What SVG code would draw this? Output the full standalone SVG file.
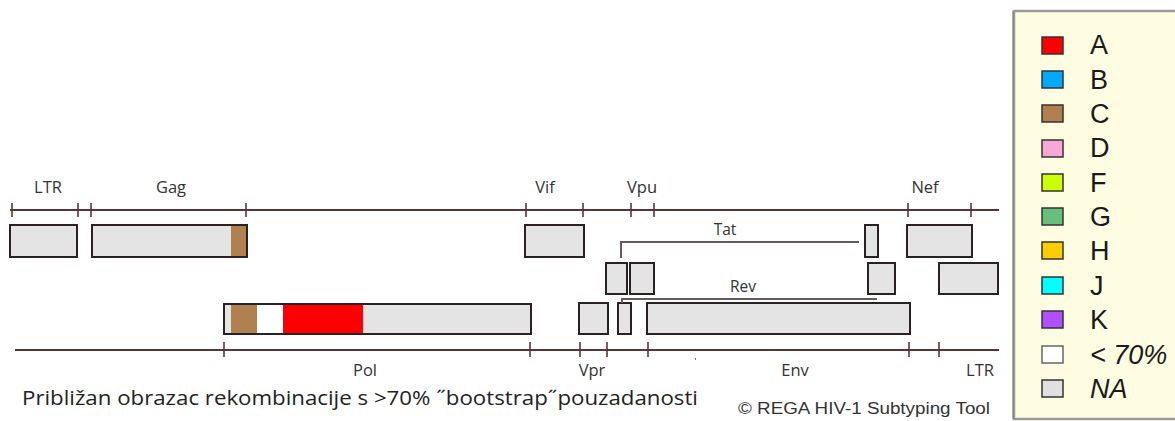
<svg xmlns="http://www.w3.org/2000/svg" width="1175" height="421" viewBox="0 0 1175 421">
<style>
.axis{stroke:#5a3535;stroke-width:2;fill:none}
.tick{stroke:#5a3535;stroke-width:1.6}
.box{fill:#e4e4e4;stroke:#2a2222;stroke-width:2}
.seg{stroke:none}
.lbl{font-family:"Open Sans","Noto Sans",sans-serif;font-size:16.5px;fill:#333;text-anchor:middle}
.brk{stroke:#6a5a5a;stroke-width:2;fill:none}
.leg{font-family:"Liberation Sans",Arial,sans-serif;font-size:27px;fill:#1a1a1a}
.sw{stroke:#333;stroke-width:1.5}
</style>
<rect width="1175" height="421" fill="#ffffff"/>
<g id="top-axis">
<line class="axis" x1="10" y1="210" x2="999" y2="210"/>
<g class="tick">
<line x1="12" y1="203" x2="12" y2="217"/><line x1="78" y1="203" x2="78" y2="217"/>
<line x1="91" y1="203" x2="91" y2="217"/><line x1="246" y1="203" x2="246" y2="217"/>
<line x1="526" y1="203" x2="526" y2="217"/><line x1="583" y1="203" x2="583" y2="217"/>
<line x1="631" y1="203" x2="631" y2="217"/><line x1="654" y1="203" x2="654" y2="217"/>
<line x1="908" y1="203" x2="908" y2="217"/><line x1="971" y1="203" x2="971" y2="217"/>
</g>
<text class="lbl" x="48" y="193">LTR</text>
<text class="lbl" x="171" y="193">Gag</text>
<text class="lbl" x="545" y="193">Vif</text>
<text class="lbl" x="642" y="193">Vpu</text>
<text class="lbl" x="925" y="193">Nef</text>
</g>
<g id="bottom-axis">
<line class="axis" x1="15" y1="350" x2="999" y2="350"/>
<g class="tick">
<line x1="224" y1="342" x2="224" y2="357"/><line x1="530" y1="342" x2="530" y2="357"/>
<line x1="580" y1="342" x2="580" y2="357"/><line x1="607" y1="342" x2="607" y2="357"/>
<line x1="648" y1="342" x2="648" y2="357"/><line x1="909" y1="342" x2="909" y2="357"/>
<line x1="939" y1="342" x2="939" y2="357"/>
</g>
<rect x="695" y="358" width="1" height="2" fill="#777"/>
<text class="lbl" x="365" y="376">Pol</text>
<text class="lbl" x="592" y="376">Vpr</text>
<text class="lbl" x="795" y="376">Env</text>
<text class="lbl" x="980" y="376">LTR</text>
</g>
<g id="ltr5"><rect class="box" x="10" y="225" width="67" height="32"/></g>
<g id="gag">
<rect class="box" x="92" y="225" width="155" height="32"/>
<rect class="seg" x="231" y="226" width="15" height="30" fill="#b08050"/>
</g>
<g id="vif"><rect class="box" x="525" y="225" width="59" height="32"/></g>
<g id="tat2"><rect class="box" x="865" y="225" width="13" height="32"/></g>
<g id="nef"><rect class="box" x="907" y="225" width="65" height="32"/></g>
<g id="tat1"><rect class="box" x="606" y="263" width="21" height="31"/></g>
<g id="vpu"><rect class="box" x="630" y="263" width="24" height="31"/></g>
<g id="rev2"><rect class="box" x="868" y="263" width="27" height="31"/></g>
<g id="ltr3"><rect class="box" x="939" y="263" width="59" height="31"/></g>
<g id="pol">
<rect class="box" x="224" y="304" width="307" height="30"/>
<rect class="seg" x="231" y="305" width="26" height="28" fill="#b08050"/>
<rect class="seg" x="257" y="305" width="26" height="28" fill="#ffffff"/>
<rect class="seg" x="283" y="305" width="80" height="28" fill="#ff0000"/>
</g>
<g id="vpr"><rect class="box" x="579" y="303" width="29" height="31"/></g>
<g id="rev1"><rect class="box" x="618" y="303" width="13" height="31"/></g>
<g id="env"><rect class="box" x="647" y="303" width="263" height="31"/></g>
<g id="connectors">
<path class="brk" d="M621 258 V242 H859"/>
<path class="brk" d="M622 303 V299 H877"/>
<text class="lbl" x="725" y="235" style="font-size:15.5px">Tat</text>
<text class="lbl" x="743" y="292" style="font-size:15.5px">Rev</text>
</g>
<g id="legend">
<rect x="1014" y="11" width="170" height="408" fill="#fffde1" stroke="#9a9a9a" stroke-width="2.5"/>
<line x1="1013" y1="11" x2="1013" y2="419" stroke="#777" stroke-width="1"/>
<g class="sw">
<rect x="1042" y="37" width="21" height="17" fill="#ff0000"/>
<rect x="1042" y="71" width="21" height="17" fill="#00aaff"/>
<rect x="1042" y="105" width="21" height="17" fill="#b08050"/>
<rect x="1042" y="140" width="21" height="17" fill="#f7a8d8"/>
<rect x="1042" y="174" width="21" height="17" fill="#ccff00"/>
<rect x="1042" y="208" width="21" height="17" fill="#66c07a"/>
<rect x="1042" y="242" width="21" height="17" fill="#ffcc00"/>
<rect x="1042" y="277" width="21" height="17" fill="#00ffff"/>
<rect x="1042" y="311" width="21" height="17" fill="#b050ff"/>
<rect x="1042" y="346" width="21" height="17" fill="#ffffff" stroke="#666"/>
<rect x="1042" y="380" width="21" height="17" fill="#e0e0e0"/>
</g>
<text class="leg" x="1090" y="54">A</text>
<text class="leg" x="1090" y="89">B</text>
<text class="leg" x="1090" y="123">C</text>
<text class="leg" x="1090" y="157">D</text>
<text class="leg" x="1090" y="192">F</text>
<text class="leg" x="1090" y="226">G</text>
<text class="leg" x="1090" y="260">H</text>
<text class="leg" x="1090" y="295">J</text>
<text class="leg" x="1090" y="329">K</text>
<text class="leg" x="1090" y="364" font-style="italic">&lt; 70%</text>
<text class="leg" x="1090" y="398" font-style="italic">NA</text>
</g>
<g id="captions">
<text x="22" y="405" font-family="'Open Sans','Noto Sans',sans-serif" font-size="19.5" fill="#222" textLength="676" lengthAdjust="spacingAndGlyphs">Približan obrazac rekombinacije s &gt;70% ˝bootstrap˝pouzadanosti</text>
<text x="738" y="414" font-family="'Liberation Sans',Arial,sans-serif" font-size="16" fill="#333" textLength="252" lengthAdjust="spacingAndGlyphs">© REGA HIV-1 Subtyping Tool</text>
</g>
</svg>
